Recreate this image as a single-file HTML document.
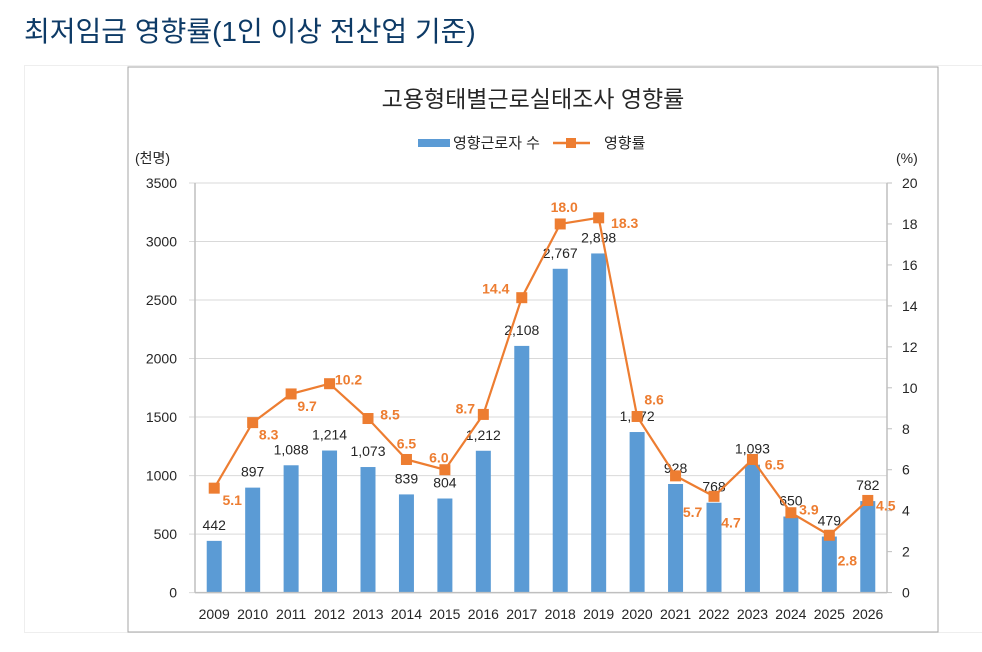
<!DOCTYPE html>
<html><head><meta charset="utf-8">
<style>
body{margin:0;background:#fff;width:982px;height:652px;overflow:hidden;font-family:"Liberation Sans","Noto Sans CJK KR",sans-serif;}
#title{position:absolute;left:24px;top:10px;font-size:28px;color:#0d3a66;font-family:"Liberation Sans","Noto Sans CJK KR",sans-serif;}
#box{position:absolute;left:24px;top:65px;width:958px;height:568px;border:1px solid #eee;border-right:none;box-sizing:border-box;}
svg{position:absolute;left:0;top:0;}
</style></head><body>
<div id="title">최저임금 영향률(1인 이상 전산업 기준)</div>
<div id="box"></div>
<svg id="chart" width="982" height="652"></svg>
<script>
const years=["2009","2010","2011","2012","2013","2014","2015","2016","2017","2018","2019","2020","2021","2022","2023","2024","2025","2026"];
const workers=[442,897,1088,1214,1073,839,804,1212,2108,2767,2898,1372,928,768,1093,650,479,782];
const rates=[5.1,8.3,9.7,10.2,8.5,6.5,6.0,8.7,14.4,18.0,18.3,8.6,5.7,4.7,6.5,3.9,2.8,4.5];
const leftTicks=[0,500,1000,1500,2000,2500,3000,3500];
const rightTicks=[0,2,4,6,8,10,12,14,16,18,20];
const workerLabels=["442","897","1,088","1,214","1,073","839","804","1,212","2,108","2,767","2,898","1,372","928","768","1,093","650","479","782"];

const svg=document.getElementById('chart');
const NS='http://www.w3.org/2000/svg';
const X0=195,X1=887,Y0=592.6,Y1=183;
const bw=(X1-X0)/years.length;
const xc=i=>X0+bw*(i+0.5);
const yL=v=>Y0-(v/3500)*(Y0-Y1);
const yR=v=>Y0-(v/20)*(Y0-Y1);
function mk(tag,attrs,text){const e=document.createElementNS(NS,tag);for(const k in attrs)e.setAttribute(k,attrs[k]);if(text!==undefined)e.textContent=text;svg.appendChild(e);return e;}

let e;
e=mk('rect',{x:128,y:67,width:810,height:565,fill:'#fff',stroke:'#a6a6a6','stroke-width':1});


e=mk('text',{x:533,y:107,'font-size':23,'text-anchor':'middle',fill:'#262626'},'고용형태별근로실태조사 영향률');


e=mk('rect',{x:418,y:139,width:32,height:8,fill:'#5b9bd5'});


e=mk('text',{x:453,y:148,'font-size':15,fill:'#262626'},'영향근로자 수');


e=mk('line',{x1:553,y1:143,x2:590,y2:143,stroke:'#ed7d31','stroke-width':2.5});


e=mk('rect',{x:566,y:138,width:10,height:10,fill:'#ed7d31'});


e=mk('text',{x:604,y:148,'font-size':15,fill:'#262626'},'영향률');


e=mk('text',{x:135,y:163,'font-size':14,fill:'#262626'},'(천명)');


e=mk('text',{x:896,y:163,'font-size':14,fill:'#262626'},'(%)');



leftTicks.forEach(t=>{
 const y=yL(t);
 e=mk('line',{x1:X0-6,y1:y,x2:X1,y2:y,stroke:'#d9d9d9','stroke-width':1});
 
 
 e=mk('text',{x:177,y:y+5,'font-size':14,'text-anchor':'end',fill:'#262626'},String(t));
 
 
});
rightTicks.forEach(t=>{
 const y=yR(t);
 e=mk('line',{x1:X1,y1:y,x2:X1+5,y2:y,stroke:'#bfbfbf','stroke-width':1});
 
 
 e=mk('text',{x:902,y:y+5,'font-size':14,fill:'#262626'},String(t));
 
 
});
e=mk('line',{x1:X0,y1:Y1,x2:X0,y2:Y0,stroke:'#bfbfbf','stroke-width':1.5});


e=mk('line',{x1:X1,y1:Y1,x2:X1,y2:Y0,stroke:'#bfbfbf','stroke-width':1.5});



years.forEach((yr,i)=>{
 const x=xc(i),y=yL(workers[i]);
 e=mk('rect',{x:x-7.5,y:y,width:15,height:Y0-y,fill:'#5b9bd5'});
 
 
 e=mk('text',{x:x,y:y-11,'font-size':14,'text-anchor':'middle',fill:'#262626'},workerLabels[i]);
 
 
 e=mk('text',{x:x,y:619,'font-size':14,'text-anchor':'middle',fill:'#262626'},yr);
 
 
});
e=mk('line',{x1:X0,y1:Y0,x2:X1,y2:Y0,stroke:'#bfbfbf','stroke-width':1.5});



const pts=rates.map((r,i)=>xc(i)+','+yR(r)).join(' ');
e=mk('polyline',{points:pts,fill:'none',stroke:'#ed7d31','stroke-width':2.2});


// label offsets [dx, dy] relative to marker (text center)
const offs=[[18,12],[16,12],[16,12],[19,-4],[22,-4],[0,-16],[-6,-12],[-18,-6],[-26,-9],[4,-17],[26,5],[17,-17],[17,36],[17,26],[22,5],[18,-3],[18,25],[18,5]];
rates.forEach((r,i)=>{
 const x=xc(i),y=yR(r);
 e=mk('rect',{x:x-5.5,y:y-5.5,width:11,height:11,fill:'#ed7d31'});
 
 
 e=mk('text',{x:x+offs[i][0],y:y+offs[i][1]+5,'font-size':14,'font-weight':'bold','text-anchor':'middle',fill:'#ed7d31'},r.toFixed(1));
 
 
});
</script>
</body></html>
